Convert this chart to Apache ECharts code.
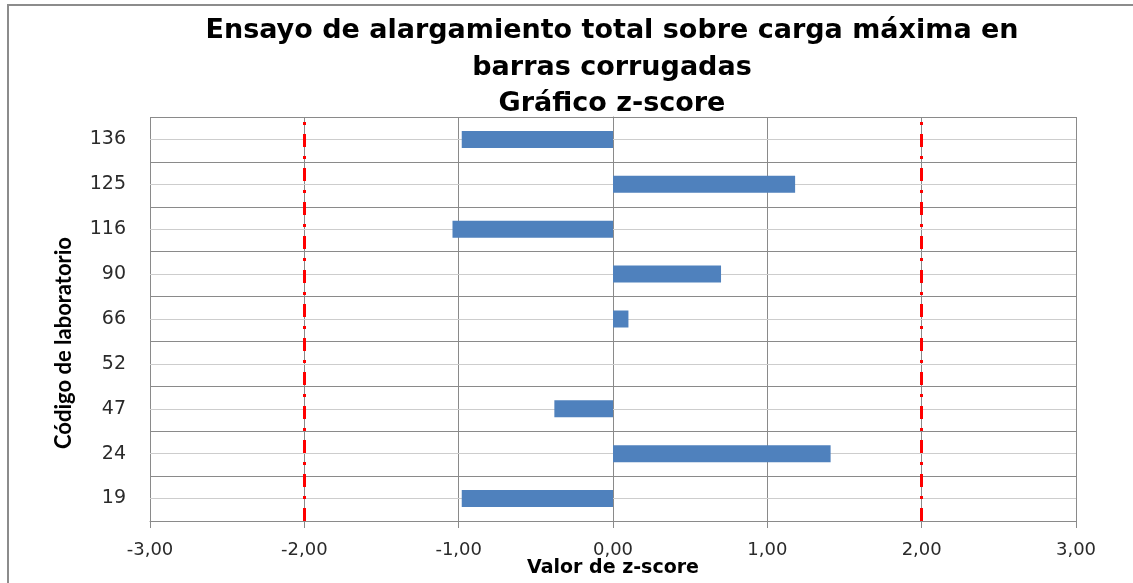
<!DOCTYPE html>
<html>
<head>
<meta charset="utf-8">
<script src="https://cdn.jsdelivr.net/npm/echarts@6/dist/echarts.min.js"></script>
<style>
html,body{margin:0;padding:0;background:#fff;}
#chart{width:1133px;height:583px;}
</style>
</head>
<body>
<div id="chart"></div>
<script>
// ---- data ----
const categories = ['19', '24', '47', '52', '66', '90', '116', '125', '136'];
const zScores = [-0.98, 1.41, -0.38, 0, 0.10, 0.70, -1.04, 1.18, -0.98];
const limitValues = [-2, 2];
const xMin = -3, xMax = 3, xInterval = 1;
const titleLines = ['Ensayo de alargamiento total sobre carga máxima en', 'barras corrugadas', 'Gráfico z-score'];
const yAxisTitle = 'Código de laboratorio';
const xAxisTitle = 'Valor de z-score';

const chart = echarts.init(document.getElementById('chart'), null, {renderer: 'canvas'});
const gridColor = '#8a8a8a';
const lightGrid = '#cdcdcd';

const option = {
  animation: false,
  backgroundColor: '#ffffff',
  grid: {left: 150, right: 57, top: 117, bottom: 62, containLabel: false},
  xAxis: {
    type: 'value', min: xMin, max: xMax, interval: xInterval,
    axisLine: {show: true, lineStyle: {color: gridColor, width: 1}},
    axisTick: {show: true, length: 7, lineStyle: {color: gridColor}},
    splitLine: {show: true, lineStyle: {color: gridColor, width: 1}},
    axisLabel: {
      margin: 20, color: '#2a2a2a', fontFamily: 'DejaVu Sans', fontSize: 18,
      formatter: v => v.toFixed(2).replace('.', ',')
    }
  },
  yAxis: {
    type: 'category', data: categories,
    axisLine: {show: true, lineStyle: {color: gridColor, width: 1}},
    axisTick: {show: true, length: 8, interval: 0, lineStyle: {color: gridColor}},
    splitLine: {show: true, interval: 0, lineStyle: {color: gridColor, width: 1}},
    axisLabel: {interval: 0, margin: 24, color: '#2a2a2a', fontFamily: 'DejaVu Sans', fontSize: 19}
  },
  series: [
    {
      type: 'line', data: [], z: 1, silent: true,
      markLine: {
        z: 1, silent: true, symbol: ['none', 'none'], label: {show: false},
        lineStyle: {color: lightGrid, width: 1, type: 'solid'},
        data: categories.map(c => ({yAxis: c}))
      }
    },
    {
      type: 'bar', data: zScores, barWidth: 17, z: 3,
      itemStyle: {color: '#4F81BD', borderWidth: 0}
    },
    {
      type: 'line', data: [], z: 6, silent: true,
      markLine: {
        z: 6, silent: true, symbol: ['none', 'none'], label: {show: false},
        lineStyle: {color: '#FF0000', width: 3, type: [13, 9, 3, 9]},
        data: limitValues.map(v => ({xAxis: v}))
      }
    }
  ],
  graphic: [
    {type: 'rect', silent: true, z: -1, shape: {x: 8, y: 5, width: 1300, height: 800},
     style: {fill: 'none', stroke: '#8c8c8c', lineWidth: 2}},
    ...titleLines.map((t, i) => ({
      type: 'text', x: 612, y: 31 + i * 36.5, silent: true,
      style: {text: t, textAlign: 'center', textVerticalAlign: 'middle',
              font: 'bold 27px "DejaVu Sans"', fill: '#000'}
    })),
    {type: 'text', x: 64, y: 343, rotation: Math.PI / 2, silent: true,
     style: {text: yAxisTitle, textAlign: 'center', textVerticalAlign: 'middle',
             font: 'bold 22px Lato', fill: '#000'}},
    {type: 'text', x: 613, y: 568, silent: true,
     style: {text: xAxisTitle, textAlign: 'center', textVerticalAlign: 'middle',
             font: 'bold 19px "DejaVu Sans"', fill: '#000'}}
  ]
};
chart.setOption(option);
</script>
</body>
</html>
